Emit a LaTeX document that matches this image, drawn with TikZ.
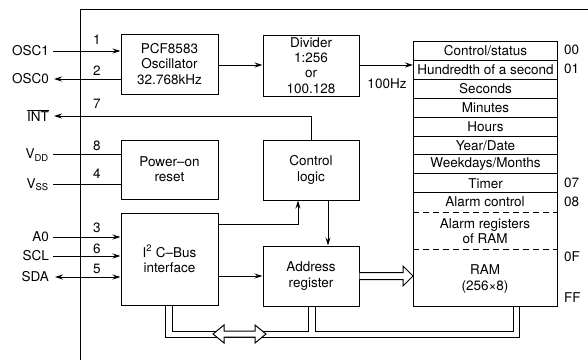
\documentclass[tikz,border=0pt]{standalone}
\usepackage{fontspec}
\setmainfont{TeX Gyre Heros}
\usetikzlibrary{arrows.meta}
\tikzset{
  every node/.style={font=\fontsize{13.5}{15.3}\selectfont, inner sep=0pt},
  blk/.style={draw, line width=1pt, align=center},
  row/.style={draw, line width=1pt, minimum width=144pt, minimum height=18.9pt, anchor=north west},
  ln/.style={line width=1pt},
  arr/.style={line width=1pt, -{Stealth[length=8pt,width=5pt]}},
  darr/.style={line width=1pt, {Stealth[length=8pt,width=5pt]}-{Stealth[length=8pt,width=5pt]}},
  hollow/.style={line width=1pt, fill=white, line join=miter},
  pin/.style={anchor=center},
  sig/.style={anchor=east},
  addr/.style={anchor=west},
}
\begin{document}
\begin{tikzpicture}[x=1pt,y=-1pt]
\useasboundingbox (0,0) rectangle (588,360);
% chip outline
\draw[ln] (80,360) -- (80,9) -- (588,9);
% blocks
\node[blk, minimum width=97pt, minimum height=60pt] (osc) at (169.5,64) {PCF8583\\Oscillator\\32.768kHz};
\node[blk, minimum width=96pt, minimum height=61pt] (div) at (311,65.5) {Divider\\1:256\\or\\100.128};
\node[blk, minimum width=97pt, minimum height=59pt] (pwr) at (169.5,169.5) {Power--on\\reset};
\node[blk, minimum width=96pt, minimum height=60pt] (ctl) at (311,170) {Control\\logic};
\node[blk, minimum width=97pt, minimum height=92pt] (i2c) at (169.5,259) {I\textsuperscript{2} C--Bus\\interface};
\node[blk, minimum width=96pt, minimum height=60pt] (adr) at (311,276) {Address\\register};
% register table
\node[row] (r1) at (413,41) {Control/status};
\node[row] (r2) at (413,59.9) {Hundredth of a second};
\node[row] (r3) at (413,78.8) {Seconds};
\node[row] (r4) at (413,97.7) {Minutes};
\node[row] (r5) at (413,116.6) {Hours};
\node[row] (r6) at (413,135.5) {Year/Date};
\node[row] (r7) at (413,154.4) {Weekdays/Months};
\node[row] (r8) at (413,173.3) {Timer};
\node[draw, line width=1pt, minimum width=144pt, minimum height=114pt, anchor=north west] (low) at (413,192.2) {};
\node (ac) at (485,202) {Alarm control};
\node[align=center] (ar) at (485,231) {Alarm registers\\of RAM};
\node[align=center] (ram) at (485,279) {RAM\\(256×8)};
\draw[ln, dash pattern=on 6pt off 4pt] (low.west |- 0,212) -- (low.east |- 0,212);
\draw[ln, dash pattern=on 6pt off 4pt] (low.west |- 0,249) -- (low.east |- 0,249);
% addresses
\node[addr] (a00) at (564,50) {00};
\node[addr] (a01) at (564,69) {01};
\node[addr] (a07) at (564,183) {07};
\node[addr] (a08) at (564,202) {08};
\node[addr] (a0F) at (564,257) {0F};
\node[addr] (aFF) at (564,298) {FF};
% external signals
\node[sig] (osc1) at (49,51) {OSC1};
\node[sig] (osc0) at (49,79) {OSC0};
\node[sig] (int) at (49,116) {$\overline{\hbox{INT}}$};
\node[sig] (vdd) at (49,155) {V\textsubscript{DD}};
\node[sig] (vss) at (49,185) {V\textsubscript{SS}};
\node[sig] (a0) at (49,237) {A0};
\node[sig] (scl) at (49,256) {SCL};
\node[sig] (sda) at (49,277) {SDA};
\coordinate (p1) at (53,51);
\coordinate (p2) at (54,79);
\coordinate (p7) at (54,116);
\coordinate (p8) at (53,154);
\coordinate (p4) at (53,184);
\coordinate (p3) at (53,237);
\coordinate (p6) at (53,256);
\coordinate (p5) at (55,277);
% pin numbers
\node[pin] (n1) at (97,40) {1};
\node[pin] (n2) at (97,71) {2};
\node[pin] (n7) at (97,104) {7};
\node[pin] (n8) at (97,146) {8};
\node[pin] (n4) at (97,174) {4};
\node[pin] (n3) at (97,228) {3};
\node[pin] (n6) at (97,249) {6};
\node[pin] (n5) at (97,269) {5};
% pin connections
\draw[arr] (p1) -- (p1 -| osc.west);
\draw[arr] (p2 -| osc.west) -- (p2);
\draw[arr] (ctl.north) |- (p7);
\draw[ln] (p8) -- (p8 -| pwr.west);
\draw[ln] (p4) -- (p4 -| pwr.west);
\draw[arr] (p3) -- (p3 -| i2c.west);
\draw[arr] (p6) -- (p6 -| i2c.west);
\draw[darr] (p5) -- (p5 -| i2c.west);
% internal connections
\draw[arr] (osc.east |- 0,65) -- (div.west |- 0,65);
\draw[arr] (div.east |- 0,65) -- (r2.west |- 0,65);
\node (hz) at (387,84) {100Hz};
\draw[arr] (i2c.east |- 0,224) -| ([xshift=-13pt]ctl.south);
\draw[arr] ([xshift=17pt]ctl.south) -- ([xshift=17pt]adr.north);
\draw[arr] (adr.west -| i2c.east) -- (adr.west);
\draw[hollow] (adr.east |- 0,272.5) -- (403,272.5) -- (403,266) -- (low.west |- 0,276) -- (403,286) -- (403,279.5) -- (adr.east |- 0,279.5);
% data bus
\draw[ln] (165,0 |- i2c.south) -- (165,337) -- (519,337) -- (519,0 |- low.south);
\draw[ln] (172,0 |- i2c.south) -- (172,331) -- (308,331) -- (308,0 |- adr.south);
\draw[ln] (315,0 |- adr.south) -- (315,331) -- (513,331) -- (513,0 |- low.south);
\draw[hollow] (213,334) -- (224,325) -- (224,331) -- (255,331) -- (255,325) -- (266,334) -- (255,343) -- (255,337) -- (224,337) -- (224,343) -- cycle;
\end{tikzpicture}
\end{document}
